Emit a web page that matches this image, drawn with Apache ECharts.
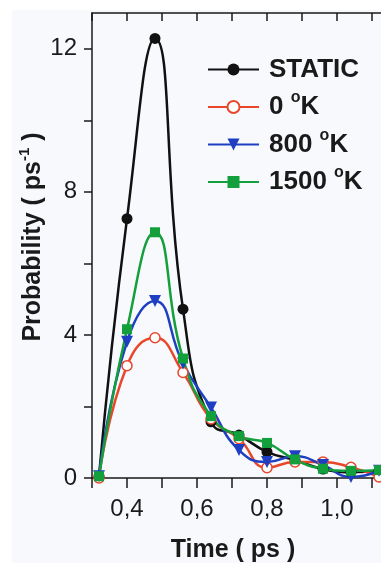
<!DOCTYPE html>
<html>
<head>
<meta charset="utf-8">
<script src="https://cdn.jsdelivr.net/npm/echarts@6/dist/echarts.min.js"></script>
<style>
  html, body { margin: 0; padding: 0; background: #ffffff; }
  #chart { width: 381px; height: 563px; }
</style>
</head>
<body>
<div id="chart"></div>
<script>
// time axis (ps) shared by all curves
const timePs = [0.32, 0.40, 0.48, 0.56, 0.64, 0.72, 0.80, 0.88, 0.96, 1.04, 1.12];

// probability (ps^-1)
const probStatic = [0.05, 7.25, 12.29, 4.72, 1.57, 1.2, 0.73, 0.5, 0.25, 0.16, 0.2];
const prob0K = [0.0, 3.14, 3.92, 2.95, 1.65, 1.1, 0.29, 0.45, 0.45, 0.3, 0.03];
const prob800K = [0.05, 3.81, 4.95, 3.2, 1.97, 0.78, 0.45, 0.61, 0.36, 0.03, 0.2];
const prob1500K = [0.05, 4.16, 6.87, 3.34, 1.73, 1.17, 0.98, 0.52, 0.26, 0.2, 0.22];

const seriesNames = ['STATIC', '0 °K', '800 °K', '1500 °K'];

// tick positions / labels
const yTicks = [0, 2, 4, 6, 8, 10, 12];
const yLabels = [0, 4, 8, 12];
const xTicks = [0.3, 0.4, 0.5, 0.6, 0.7, 0.8, 0.9, 1.0, 1.1, 1.2];
const xLabels = [0.4, 0.6, 0.8, 1.0];

const FONT = '"Liberation Sans", Arial, sans-serif';
const INK = '#1a1a1a';

const chart = echarts.init(document.getElementById('chart'), null, { renderer: 'canvas' });

function pairs(ys) {
  return timePs.map((t, i) => [t, ys[i]]);
}

function lineSeries(name, ys, color, symbol, size, hollow) {
  return {
    name: name,
    type: 'line',
    data: pairs(ys),
    smooth: 0.5,
    symbol: symbol,
    symbolSize: size,
    showAllSymbol: true,
    lineStyle: { color: color, width: 2.5 },
    itemStyle: {
      color: hollow ? '#ffffff' : color,
      borderColor: color,
      borderWidth: hollow ? 1.5 : 0
    },
    emphasis: { disabled: true }
  };
}

const axisCommon = {
  axisLine: { show: true, lineStyle: { color: INK, width: 1.5 } },
  splitLine: { show: false }
};

const option = {
  backgroundColor: '#ffffff',
  animation: false,
  graphic: [
    {
      type: 'rect',
      z: -10,
      silent: true,
      shape: { x: 12, y: 10, width: 369, height: 553 },
      style: { fill: '#f8f9fc' }
    },
    {
      type: 'text',
      x: 233,
      y: 550,
      silent: true,
      style: {
        text: 'Time ( ps )',
        font: 'bold 25px ' + FONT,
        fill: INK,
        align: 'center',
        verticalAlign: 'middle'
      }
    },
    {
      type: 'text',
      x: 33,
      y: 237,
      rotation: Math.PI / 2,
      silent: true,
      style: {
        text: 'Probability ( ps{s|-1} )',
        font: 'bold 25px ' + FONT,
        fill: INK,
        align: 'center',
        verticalAlign: 'middle',
        rich: {
          s: { font: 'bold 15px ' + FONT, fill: INK, padding: [0, 0, 16, 0] }
        }
      }
    }
  ],
  grid: {
    left: 92,
    top: 13,
    width: 315,
    height: 465,
    outerBoundsMode: 'none',
    show: false
  },
  legend: {
    orient: 'vertical',
    left: 207,
    top: 56,
    padding: 0,
    itemWidth: 51,
    itemHeight: 15,
    itemGap: 7,
    selectedMode: false,
    data: seriesNames,
    formatter: name => name.replace('°', '{s|o}'),
    textStyle: {
      fontFamily: FONT,
      fontWeight: 'bold',
      fontSize: 26,
      color: INK,
      lineHeight: 27,
      padding: [0, 0, 0, 5],
      rich: {
        s: { fontFamily: FONT, fontSize: 16, fontWeight: 'bold', color: INK, padding: [0, 0, 18, 0] }
      }
    }
  },
  xAxis: [
    Object.assign({}, axisCommon, {
      type: 'value',
      min: 0.3,
      max: 1.2,
      axisTick: { show: true, inside: false, length: 10, customValues: xTicks, lineStyle: { color: INK, width: 1.5 } },
      axisLabel: {
        customValues: xLabels,
        margin: 19,
        fontFamily: FONT,
        fontSize: 24,
        color: INK,
        formatter: v => v.toFixed(1).replace('.', ',')
      }
    }),
    Object.assign({}, axisCommon, {
      type: 'value',
      position: 'top',
      min: 0.3,
      max: 1.2,
      axisTick: { show: true, inside: true, length: 8, customValues: xTicks, lineStyle: { color: INK, width: 1.5 } },
      axisLabel: { show: false }
    })
  ],
  yAxis: Object.assign({}, axisCommon, {
    type: 'value',
    min: 0,
    max: 13,
    axisTick: { show: true, inside: false, length: 8, customValues: yTicks, lineStyle: { color: INK, width: 1.5 } },
    axisLabel: {
      customValues: yLabels,
      margin: 15,
      fontFamily: FONT,
      fontSize: 24,
      color: INK
    }
  }),
  series: [
    lineSeries(seriesNames[0], probStatic, '#111111', 'circle', 11, false),
    lineSeries(seriesNames[1], prob0K, '#e8472c', 'circle', 10, true),
    lineSeries(seriesNames[2], prob800K, '#1f3fc2', 'triangle', 12, false),
    lineSeries(seriesNames[3], prob1500K, '#13a03c', 'rect', 10, false)
  ]
};

// down-pointing triangle for the 800 K curve
option.series[2].symbolRotate = 180;

chart.setOption(option);
</script>
</body>
</html>
